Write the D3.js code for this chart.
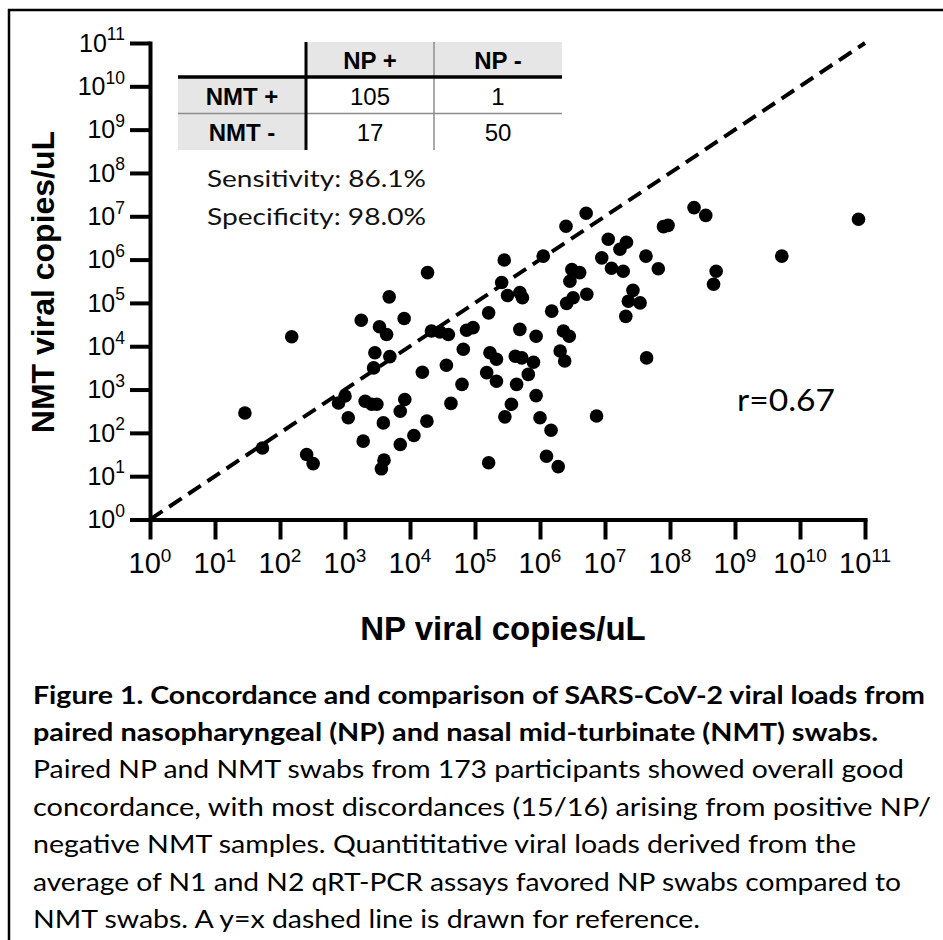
<!DOCTYPE html>
<html>
<head>
<meta charset="utf-8">
<script src="https://cdn.jsdelivr.net/npm/d3@7"></script>
<style>
  body { margin: 0; background: #fff; }
  svg { display: block; }
</style>
</head>
<body>
<div id="chart-area"></div>
<script>
// log10 viral copies/uL (NP on x, NMT on y)
var npLog = [1.46, 1.73, 2.18, 2.41, 2.51, 2.90, 3.00, 3.05, 3.25, 3.28,
    3.31, 3.41, 3.49, 3.46, 3.44, 3.53, 3.64, 3.68, 3.69, 3.59,
    3.60, 3.56, 3.85, 3.92, 3.85, 3.91, 4.06, 4.19, 4.26, 4.27,
    4.33, 4.46, 4.59, 4.56, 4.63, 4.80, 4.82, 4.87, 4.97, 5.21,
    5.21, 5.23, 5.33, 5.18, 5.33, 5.41, 5.45, 5.50, 5.69, 5.73,
    5.69, 5.94, 5.62, 5.72, 5.90, 5.82, 5.64, 5.94, 5.56, 5.46,
    6.00, 6.17, 6.10, 6.28, 6.05, 6.18, 6.31, 6.38, 6.36, 6.45,
    6.40, 6.71, 6.41, 6.51, 6.49, 6.61, 6.46, 6.72, 6.87, 6.95,
    7.05, 7.33, 7.23, 7.10, 7.28, 7.43, 7.36, 7.54, 7.32, 7.63,
    7.82, 7.64, 7.90, 7.97, 8.37, 8.55, 8.71, 8.67, 9.72, 10.90];
var nmtLog = [2.46, 1.65, 4.22, 1.50, 1.29, 2.69, 2.85, 2.35, 4.60, 1.81,
    2.73, 2.66, 2.66, 3.85, 3.50, 4.45, 4.27, 5.14, 3.76, 2.23,
    1.37, 1.17, 2.50, 2.77, 1.73, 4.64, 1.94, 3.40, 2.27, 5.70,
    4.35, 4.33, 4.27, 3.56, 2.68, 3.12, 3.93, 4.37, 4.43, 4.77,
    1.31, 3.85, 3.70, 3.39, 3.19, 5.47, 5.99, 5.17, 5.24, 5.12,
    4.39, 4.23, 3.77, 3.73, 3.63, 3.35, 3.12, 2.86, 2.66, 2.37,
    2.35, 2.06, 1.46, 1.22, 6.08, 4.81, 3.89, 3.66, 4.35, 4.23,
    6.77, 7.07, 4.99, 5.12, 5.77, 5.70, 5.50, 5.20, 2.39, 6.04,
    6.47, 6.40, 6.24, 5.80, 5.73, 5.29, 5.04, 5.00, 4.69, 6.08,
    5.79, 3.73, 6.76, 6.79, 7.20, 7.02, 5.73, 5.43, 6.08, 6.93];

var tickExps = [0, 1, 2, 3, 4, 5, 6, 7, 8, 9, 10, 11];
var diagonal = [1, 1e11];

var tableCols = ["NP +", "NP -"];
var tableRows = ["NMT +", "NMT -"];
var tableCounts = [[105, 1], [17, 50]];
var statLines = ["Sensitivity: 86.1%", "Specificity: 98.0%"];
var rLabel = "r=0.67";

var xTitle = "NP viral copies/uL";
var yTitle = "NMT viral copies/uL";
var captionBold = [
    "Figure 1. Concordance and comparison of SARS-CoV-2 viral loads from",
    "paired nasopharyngeal (NP) and nasal mid-turbinate (NMT) swabs."
];
var captionText = [
    "Paired NP and NMT swabs from 173 participants showed overall good",
    "concordance, with most discordances (15/16) arising from positive NP/",
    "negative NMT samples. Quantititative viral loads derived from the",
    "average of N1 and N2 qRT-PCR assays favored NP swabs compared to",
    "NMT swabs. A y=x dashed line is drawn for reference."
];

var points = npLog.map(function(d, i) {
    return {np: Math.pow(10, d), nmt: Math.pow(10, nmtLog[i])};
});

var svg = d3.select("#chart-area")
    .append("svg")
    .attr("width", 943)
    .attr("height", 940);

svg.append("rect").attr("width", 943).attr("height", 940).attr("fill", "#fff");

// frame (left and top edges are all that show)
svg.append("path")
    .attr("d", "M9,940V10H943")
    .attr("fill", "none")
    .attr("stroke", "#000")
    .attr("stroke-width", 2.5);

var x = d3.scaleLog().domain([1, 1e11]).range([150, 865]);
var y = d3.scaleLog().domain([1, 1e11]).range([519.5, 43]);

var tickVals = tickExps.map(function(e) { return Math.pow(10, e); });

// axes
var xAxis = svg.append("g")
    .attr("transform", "translate(0,519.5)")
    .call(d3.axisBottom(x).tickValues(tickVals).tickSize(20).tickSizeOuter(0).tickFormat(""));
var yAxis = svg.append("g")
    .attr("transform", "translate(150,0)")
    .call(d3.axisLeft(y).tickValues(tickVals).tickSize(20).tickSizeOuter(0).tickFormat(""));

[xAxis, yAxis].forEach(function(g) {
    g.select(".domain").attr("stroke-width", 4).attr("stroke-linecap", "square");
    g.selectAll(".tick line").attr("stroke-width", 4);
});

// tick labels with superscripts
var xl = svg.selectAll(".xlab")
    .data(tickExps)
    .enter()
    .append("text")
    .attr("class", "xlab")
    .attr("x", function(d) { return x(Math.pow(10, d)); })
    .attr("y", 573)
    .attr("text-anchor", "middle")
    .style("font-family", "'Liberation Sans Narrow', 'Liberation Sans', Arial, sans-serif")
    .style("font-size", "29px");
xl.append("tspan").text("10");
xl.append("tspan").attr("dy", -11.5).style("font-size", "19px").text(function(d) { return d; });

var yl = svg.selectAll(".ylab")
    .data(tickExps)
    .enter()
    .append("text")
    .attr("class", "ylab")
    .attr("x", 125)
    .attr("y", function(d) { return y(Math.pow(10, d)) + 8.8; })
    .attr("text-anchor", "end")
    .style("font-family", "'Liberation Sans', Arial, sans-serif")
    .style("font-size", "25px");
yl.append("tspan").text("10");
yl.append("tspan").attr("dy", -11.5).style("font-size", "17.5px").text(function(d) { return d; });

// axis titles
svg.append("text")
    .attr("x", 503)
    .attr("y", 640)
    .attr("text-anchor", "middle")
    .style("font-family", "'Liberation Sans', Arial, sans-serif")
    .style("font-weight", "bold")
    .style("font-size", "33px")
    .text(xTitle);

svg.append("text")
    .attr("transform", "translate(54,282) rotate(-90)")
    .attr("text-anchor", "middle")
    .style("font-family", "'Liberation Sans', Arial, sans-serif")
    .style("font-weight", "bold")
    .style("font-size", "32px")
    .text(yTitle);

// y = x reference line
svg.append("line")
    .attr("x1", x(diagonal[0]))
    .attr("y1", y(diagonal[0]))
    .attr("x2", x(diagonal[1]))
    .attr("y2", y(diagonal[1]))
    .attr("stroke", "#000")
    .attr("stroke-width", 4)
    .attr("stroke-dasharray", "15,8");

// points
svg.selectAll("circle.pt")
    .data(points)
    .enter()
    .append("circle")
    .attr("class", "pt")
    .attr("cx", function(d) { return x(d.np); })
    .attr("cy", function(d) { return y(d.nmt); })
    .attr("r", 6.8)
    .attr("fill", "#000");

// 2x2 table
var tbl = svg.append("g");
tbl.append("rect").attr("x", 306).attr("y", 42).attr("width", 256).attr("height", 35).attr("fill", "#e6e6e6");
tbl.append("rect").attr("x", 178).attr("y", 77).attr("width", 128).attr("height", 73).attr("fill", "#e6e6e6");
tbl.append("line").attr("x1", 434).attr("x2", 434).attr("y1", 42).attr("y2", 150)
    .attr("stroke", "#8c8c8c").attr("stroke-width", 1.5);
tbl.append("line").attr("x1", 178).attr("x2", 562).attr("y1", 113.5).attr("y2", 113.5)
    .attr("stroke", "#8c8c8c").attr("stroke-width", 1.5);
tbl.append("line").attr("x1", 178).attr("x2", 562).attr("y1", 77).attr("y2", 77)
    .attr("stroke", "#000").attr("stroke-width", 3.5);
tbl.append("line").attr("x1", 306).attr("x2", 306).attr("y1", 42).attr("y2", 150)
    .attr("stroke", "#000").attr("stroke-width", 3);

var colX = [370, 498];
var rowY = [105, 141];
tbl.selectAll("text.colh")
    .data(tableCols)
    .enter()
    .append("text")
    .attr("x", function(d, i) { return colX[i]; })
    .attr("y", 69)
    .attr("text-anchor", "middle")
    .style("font-family", "'Liberation Sans', Arial, sans-serif")
    .style("font-weight", "bold")
    .style("font-size", "24px")
    .text(function(d) { return d; });
tbl.selectAll("text.rowh")
    .data(tableRows)
    .enter()
    .append("text")
    .attr("x", 242)
    .attr("y", function(d, i) { return rowY[i]; })
    .attr("text-anchor", "middle")
    .style("font-family", "'Liberation Sans', Arial, sans-serif")
    .style("font-weight", "bold")
    .style("font-size", "24px")
    .text(function(d) { return d; });
tableCounts.forEach(function(row, r) {
    row.forEach(function(v, c) {
        tbl.append("text")
            .attr("x", colX[c])
            .attr("y", rowY[r])
            .attr("text-anchor", "middle")
            .style("font-family", "'Liberation Sans', Arial, sans-serif")
            .style("font-size", "24px")
            .text(v);
    });
});

// stats
svg.selectAll("text.stat")
    .data(statLines)
    .enter()
    .append("text")
    .attr("x", 207)
    .attr("y", function(d, i) { return 187 + i * 37.5; })
    .attr("textLength", 219)
    .attr("lengthAdjust", "spacingAndGlyphs")
    .style("font-family", "Lato, sans-serif")
    .style("font-size", "22.5px")
    .style("fill", "#111")
    .text(function(d) { return d; });

svg.append("text")
    .attr("x", 737)
    .attr("y", 410.5)
    .attr("textLength", 98)
    .attr("lengthAdjust", "spacingAndGlyphs")
    .style("font-family", "Lato, sans-serif")
    .style("font-size", "30.5px")
    .text(rLabel);

// caption
var capEnds = [925, 878, 904, 931, 856, 901, 700];
var capLines = captionBold.map(function(t) { return {t: t, b: true}; })
    .concat(captionText.map(function(t) { return {t: t, b: false}; }));
svg.selectAll("text.cap")
    .data(capLines)
    .enter()
    .append("text")
    .attr("x", 33)
    .attr("y", function(d, i) { return 703.5 + i * 37.4; })
    .attr("textLength", function(d, i) { return capEnds[i] - 33; })
    .attr("lengthAdjust", "spacingAndGlyphs")
    .style("font-family", "Lato, sans-serif")
    .style("font-weight", function(d) { return d.b ? "bold" : "normal"; })
    .style("font-size", "25px")
    .text(function(d) { return d.t; });
</script>
</body>
</html>
